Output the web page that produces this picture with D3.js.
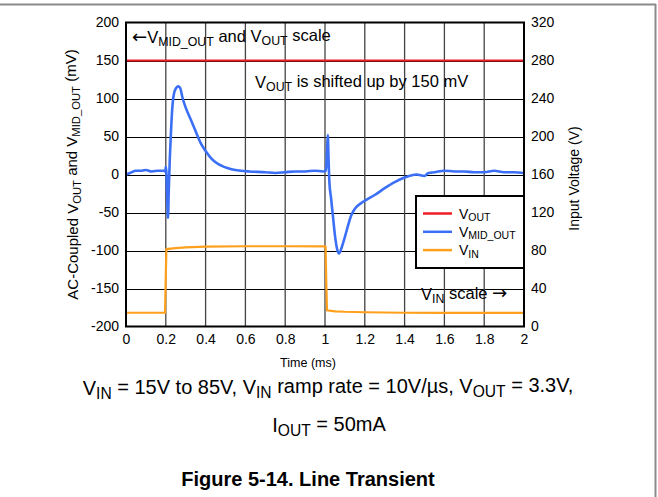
<html>
<head>
    <meta charset="utf-8">
    <script src="https://d3js.org/d3.v7.min.js"></script>
    <style>
        body { margin: 0; background: #fff; }
        text { font-family: "Liberation Sans", Arial, sans-serif; fill: #000; }
        .arrow { font-family: "DejaVu Sans", sans-serif; }
    </style>
</head>
<body>
<svg id="chart"></svg>
<script>
// ---- data ----
// time axis (ms)
const timeTicks = [0, 0.2, 0.4, 0.6, 0.8, 1, 1.2, 1.4, 1.6, 1.8, 2];
const mvTicks = [-200, -150, -100, -50, 0, 50, 100, 150, 200];
const vinTicks = [0, 40, 80, 120, 160, 200, 240, 280, 320];

// V_MID_OUT, AC coupled (mV)
const midTime = [0, 0.02, 0.05, 0.08, 0.1, 0.13, 0.16, 0.19, 0.198, 0.2, 0.203, 0.207, 0.211, 0.215,
    0.22, 0.225, 0.232, 0.24, 0.25, 0.262, 0.272, 0.285, 0.3, 0.326, 0.35, 0.376, 0.4, 0.426, 0.45,
    0.493, 0.53, 0.576, 0.62, 0.7, 0.75, 0.8, 0.85, 0.9, 0.95, 0.99, 1.005, 1.01, 1.014, 1.018,
    1.022, 1.03, 1.04, 1.05, 1.06, 1.07, 1.085, 1.1, 1.115, 1.13, 1.15, 1.18, 1.21, 1.25, 1.3,
    1.35, 1.4, 1.46, 1.5, 1.52, 1.55, 1.6, 1.65, 1.7, 1.75, 1.8, 1.85, 1.9, 1.95, 2];
const midMv = [0, 2, 5, 5, 6, 4, 5, 5, 4, 10, 3, -30, -57, -20,
    20, 50, 85, 105, 113, 116, 114, 100, 88, 72, 57, 41, 31, 22, 16,
    10, 7, 5, 4, 3, 2, 3, 4, 4, 5, 4, 5, 30, 52, 20,
    -10, -30, -55, -80, -97, -104, -95, -82, -68, -55, -45, -38, -33, -27, -18,
    -10, -4, 0, -2, 2, 3, 5, 4, 4, 3, 3, 5, 3, 3, 2];

// V_OUT, AC coupled and shifted up by 150 mV (mV)
const voutTime = [0, 2];
const voutMv = [150, 150];

// V_IN (V), right axis
const vinTime = [0, 0.1, 0.196, 0.199, 0.203, 0.25, 0.3, 0.4, 0.6, 0.8, 1.0, 1.003, 1.006, 1.01,
    1.05, 1.1, 1.2, 1.4, 1.6, 2];
const vinV = [14.5, 14.5, 14.5, 45, 81.5, 82.5, 83.3, 84, 84.5, 84.5, 84.3, 84, 50, 17,
    16, 15.5, 15, 14.5, 14.3, 14.3];

// ---- layout ----
const width = 658, height = 497;
const svg = d3.select("svg#chart")
    .attr("width", width)
    .attr("height", height);

const pLeft = 126, pRight = 524, pTop = 22.5, pBottom = 326.5;

const x = d3.scaleLinear().domain([0, 2]).range([pLeft, pRight]);
const yMv = d3.scaleLinear().domain([-200, 200]).range([pBottom, pTop]);
const yV = d3.scaleLinear().domain([0, 320]).range([pBottom, pTop]);

// outer frame (grey top and right edges)
svg.append("line").attr("x1", 0).attr("x2", 656).attr("y1", 4.5).attr("y2", 4.5)
    .attr("stroke", "#8a8a8a").attr("stroke-width", 2);
svg.append("line").attr("x1", 655.5).attr("x2", 655.5).attr("y1", 4).attr("y2", height)
    .attr("stroke", "#8a8a8a").attr("stroke-width", 2);

// text with subscripts: parts = [[str, kind], ...]  kind: 0 normal, 1 subscript, 2 arrow glyph
function rich(sel, parts, subScale) {
    let wasSub = false;
    parts.forEach(p => {
        const t = sel.append("tspan").text(p[0]);
        const isSub = p[1] === 1;
        if (isSub) {
            t.attr("font-size", subScale);
            if (!wasSub) t.attr("dy", "0.25em");
        } else if (wasSub) t.attr("dy", "-0.25em");
        if (p[1] === 2) t.attr("class", "arrow").attr("font-size", "1.1em");
        wasSub = isSub;
    });
    return sel;
}

// grid
svg.append("g").selectAll("line").data(mvTicks.slice(1, -1))
    .join("line")
    .attr("x1", pLeft).attr("x2", pRight)
    .attr("y1", d => Math.round(yMv(d)) + 0.5).attr("y2", d => Math.round(yMv(d)) + 0.5)
    .attr("stroke", "#000").attr("stroke-width", 1);
svg.append("g").selectAll("line").data(timeTicks.slice(1, -1))
    .join("line")
    .attr("x1", d => x(d)).attr("x2", d => x(d))
    .attr("y1", pTop).attr("y2", pBottom)
    .attr("stroke", "#444").attr("stroke-width", 1.3);

// axes (labels only, the border is drawn separately)
const plain = d => String(d);
const axL = svg.append("g").attr("transform", `translate(${pLeft},0)`)
    .call(d3.axisLeft(yMv).tickValues(mvTicks).tickFormat(plain).tickSize(0).tickPadding(7));
const axR = svg.append("g").attr("transform", `translate(${pRight},0)`)
    .call(d3.axisRight(yV).tickValues(vinTicks).tickFormat(plain).tickSize(0).tickPadding(7));
const axB = svg.append("g").attr("transform", `translate(0,${pBottom})`)
    .call(d3.axisBottom(x).tickValues(timeTicks).tickFormat(plain).tickSize(0).tickPadding(8));
[axL, axR, axB].forEach(a => {
    a.select(".domain").remove();
    a.selectAll("text").attr("font-size", 14).attr("font-family", null);
});

// series
svg.append("clipPath").attr("id", "plotclip")
    .append("rect").attr("x", pLeft).attr("y", pTop)
    .attr("width", pRight - pLeft).attr("height", pBottom - pTop);

const lineMv = d3.line().x(d => x(d[0])).y(d => yMv(d[1])).curve(d3.curveMonotoneX);
const lineV = d3.line().x(d => x(d[0])).y(d => yV(d[1]));

const plot = svg.append("g").attr("clip-path", "url(#plotclip)");
plot.append("path").datum(d3.zip(vinTime, vinV))
    .attr("d", lineV).attr("fill", "none")
    .attr("stroke", "#ffa01c").attr("stroke-width", 2.2);
plot.append("path").datum(d3.zip(voutTime, voutMv))
    .attr("d", lineMv).attr("fill", "none")
    .attr("stroke", "#ee1c24").attr("stroke-width", 2.2);
plot.append("path").datum(d3.zip(midTime, midMv))
    .attr("d", lineMv).attr("fill", "none")
    .attr("stroke", "#3b6ff5").attr("stroke-width", 2.6)
    .attr("stroke-linejoin", "round");

// legend
const legendItems = [
    {parts: [["V", 0], ["OUT", 1]], color: "#ee1c24"},
    {parts: [["V", 0], ["MID_OUT", 1]], color: "#3b6ff5"},
    {parts: [["V", 0], ["IN", 1]], color: "#ffa01c"}
];
const lg = svg.append("g");
lg.append("rect").attr("x", 416).attr("y", 196).attr("width", pRight - 416).attr("height", 72)
    .attr("fill", "#fff").attr("stroke", "#000").attr("stroke-width", 2);
legendItems.forEach((d, i) => {
    const yy = 213.5 + i * 18.3;
    lg.append("line").attr("x1", 423).attr("x2", 452).attr("y1", yy).attr("y2", yy)
        .attr("stroke", d.color).attr("stroke-width", 2.5);
    rich(lg.append("text").attr("x", 459).attr("y", yy + 5).attr("font-size", 14), d.parts, "0.75em");
});

// plot border
svg.append("rect").attr("x", pLeft).attr("y", pTop)
    .attr("width", pRight - pLeft).attr("height", pBottom - pTop)
    .attr("fill", "none").attr("stroke", "#000").attr("stroke-width", 2);

// annotations
rich(svg.append("text").attr("x", 132).attr("y", 43).attr("font-size", 16.5),
    [["\u2190", 2], ["V", 0], ["MID_OUT", 1], [" and V", 0], ["OUT", 1], [" scale", 0]], "0.75em");
rich(svg.append("text").attr("x", 255).attr("y", 88).attr("font-size", 16.5),
    [["V", 0], ["OUT", 1], [" is shifted up by 150 mV", 0]], "0.75em");
rich(svg.append("text").attr("x", 421).attr("y", 300).attr("font-size", 16.5),
    [["V", 0], ["IN", 1], [" scale ", 0], ["\u2192", 2]], "0.75em");

// axis titles
svg.append("text").attr("x", (pLeft + pRight) / 2 - 17).attr("y", 367)
    .attr("text-anchor", "middle").attr("font-size", 12.5).text("Time (ms)");
rich(svg.append("text")
        .attr("transform", `translate(78,${(pTop + pBottom) / 2}) rotate(-90)`)
        .attr("text-anchor", "middle").attr("font-size", 15),
    [["AC-Coupled V", 0], ["OUT", 1], [" and V", 0], ["MID_OUT", 1], [" (mV)", 0]], "0.75em");
svg.append("text")
    .attr("transform", `translate(579,${(pTop + pBottom) / 2 + 4}) rotate(-90)`)
    .attr("text-anchor", "middle").attr("font-size", 14).text("Input Voltage (V)");

// caption
rich(svg.append("text").attr("x", 328).attr("y", 395).attr("text-anchor", "middle").attr("font-size", 20),
    [["V", 0], ["IN", 1], [" = 15V to 85V, V", 0], ["IN", 1], [" ramp rate = 10V/\u00b5s, V", 0],
     ["OUT", 1], [" = 3.3V,", 0]], "0.78em");
rich(svg.append("text").attr("x", 329).attr("y", 432).attr("text-anchor", "middle").attr("font-size", 20),
    [["I", 0], ["OUT", 1], [" = 50mA", 0]], "0.78em");
svg.append("text").attr("x", 308).attr("y", 486).attr("text-anchor", "middle")
    .attr("font-size", 20).attr("font-weight", "bold").text("Figure 5-14. Line Transient");
</script>
</body>
</html>
